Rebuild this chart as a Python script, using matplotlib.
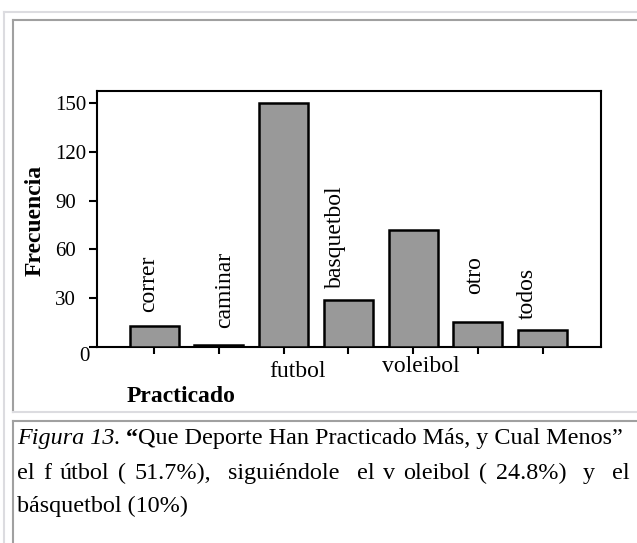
import matplotlib
matplotlib.use('Agg')
import matplotlib.pyplot as plt
from matplotlib.lines import Line2D
import numpy as np

plt.rcParams['font.family'] = ['Liberation Serif', 'DejaVu Serif']

# --------DATA--------
categorias = ['correr', 'caminar', 'futbol', 'basquetbol', 'voleibol', 'otro', 'todos']
frecuencias = [13, 1, 150, 29, 72, 15, 10]
yticks = [0, 30, 60, 90, 120, 150]

# etiqueta: (posicion, dx, dy) en pixeles respecto a la barra
etiq_pos = {
    'correr': ('arriba', 0, 14),
    'caminar': ('arriba', 11, 17),
    'futbol': ('abajo', 14, -30),
    'basquetbol': ('arriba', -7, 12),
    'voleibol': ('abajo', 8, -25),
    'otro': ('arriba', 2, 28),
    'todos': ('arriba', -10, 11),
}

W, H = 637, 543
fig = plt.figure(figsize=(W / 100, H / 100), dpi=100)


def fx(x):
    return x / W


def fy(y):
    return 1 - y / H


# --------MARCOS--------
claro = '#dcdce0'
oscuro = '#a0a0a0'
marcos = [
    ((4, 4), (12, 543), claro),
    ((4, 637), (12, 12), claro),
    ((13, 13), (20, 412), oscuro),
    ((13, 637), (20, 20), oscuro),
    ((13, 637), (412, 412), claro),
    ((13, 13), (421, 543), oscuro),
    ((13, 637), (421, 421), oscuro),
]
for xs, ys, c in marcos:
    fig.add_artist(Line2D([fx(xs[0]), fx(xs[1])], [fy(ys[0]), fy(ys[1])],
                          transform=fig.transFigure, color=c, linewidth=1.5))

# --------GRAFICO--------
ax = fig.add_axes([fx(96.7), fy(346.7), fx(600.7) - fx(96.7), fy(90.7) - fy(346.7)])
x = np.arange(len(categorias))
ax.bar(x, frecuencias, width=0.756, color='#999999', edgecolor='black', linewidth=1.8, zorder=3)

ax.set_xlim(-0.885, len(categorias) - 1 + 0.895)
ax.set_ylim(0, 157.7)
for s in ax.spines.values():
    s.set_linewidth(1.5)

ax.set_xticks(x)
ax.set_xticklabels([])
ax.tick_params(axis='x', direction='out', length=5, width=1.5)

ax.set_yticks(yticks)
ax.set_yticklabels([''] + [str(t) for t in yticks[1:]], fontsize=15)
ax.tick_params(axis='y', direction='out', length=6, width=1.5, pad=24)
for lab in ax.get_yticklabels():
    lab.set_horizontalalignment('left')

ax.annotate('0', xy=(ax.get_xlim()[0], 0), xytext=(-12, -10), textcoords='offset pixels',
            ha='center', va='center', fontsize=15)

for i, (cat, val) in enumerate(zip(categorias, frecuencias)):
    lugar, dx, dy = etiq_pos[cat]
    if lugar == 'arriba':
        ax.annotate(cat, xy=(i, val), xytext=(dx, dy), textcoords='offset pixels',
                    rotation=90, rotation_mode='anchor', ha='left', va='baseline',
                    fontsize=17, annotation_clip=False)
    else:
        ax.annotate(cat, xy=(i, 0), xytext=(dx, dy), textcoords='offset pixels',
                    ha='center', va='baseline', fontsize=17, annotation_clip=False)

fig.text(fx(35), fy(220), 'Frecuencia', rotation=90, ha='center', va='center',
         fontsize=17, fontweight='bold')
fig.text(fx(181.5), fy(397), 'Practicado', ha='center', va='center',
         fontsize=17, fontweight='bold')

# --------PIE DE FIGURA--------
tam = 17.4
fig.canvas.draw()
r = fig.canvas.get_renderer()

partes = [('Figura 13.', dict(style='italic')),
          (' \u201c', dict(fontweight='bold')),
          ('Que Deporte Han Practicado Más, y Cual Menos\u201d', dict())]
xpos = 17
for txt, kw in partes:
    t = fig.text(fx(xpos), fy(444), txt, ha='left', va='baseline', fontsize=tam, **kw)
    xpos += t.get_window_extent(renderer=r).width

# linea justificada: cada espacio se estira igual
linea2 = 'el f útbol ( 51.7%),  siguiéndole  el v oleibol ( 24.8%)  y  el'
palabras = linea2.split(' ')
x_ini, x_fin = 17, 630
anchos = []
for p in palabras:
    if p:
        t = fig.text(0, 0, p, fontsize=tam)
        anchos.append(t.get_window_extent(renderer=r).width)
        t.remove()
    else:
        anchos.append(0)
n_esp = len(palabras) - 1
esp = (x_fin - x_ini - sum(anchos)) / n_esp
xpos = x_ini
for p, a in zip(palabras, anchos):
    if p:
        fig.text(fx(xpos), fy(479), p, ha='left', va='baseline', fontsize=tam)
    xpos += a + esp

fig.text(fx(17), fy(512), 'básquetbol (10%)', ha='left', va='baseline', fontsize=tam)

fig.savefig('out.png', dpi=100)
